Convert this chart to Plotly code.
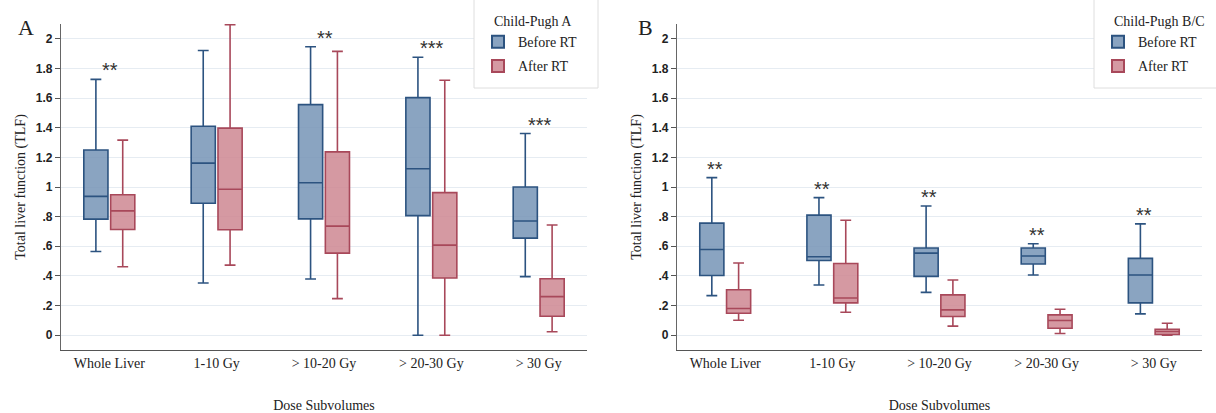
import plotly.graph_objects as go

W, H = 1216, 413

categories = ["Whole Liver", "1-10 Gy", "> 10-20 Gy", "> 20-30 Gy", "> 30 Gy"]

# Child-Pugh A
a_before_low = [0.565, 0.352, 0.379, 0.0, 0.395]
a_before_q1 = [0.783, 0.890, 0.785, 0.807, 0.655]
a_before_med = [0.937, 1.161, 1.029, 1.123, 0.771]
a_before_q3 = [1.250, 1.410, 1.556, 1.603, 1.000]
a_before_high = [1.726, 1.921, 1.946, 1.876, 1.361]

a_after_low = [0.462, 0.473, 0.247, 0.0, 0.023]
a_after_q1 = [0.713, 0.711, 0.554, 0.386, 0.128]
a_after_med = [0.839, 0.985, 0.736, 0.608, 0.260]
a_after_q3 = [0.948, 1.397, 1.237, 0.962, 0.381]
a_after_high = [1.316, 2.096, 1.915, 1.720, 0.744]

# Child-Pugh B/C
b_before_low = [0.267, 0.339, 0.289, 0.406, 0.144]
b_before_q1 = [0.403, 0.504, 0.397, 0.480, 0.218]
b_before_med = [0.578, 0.529, 0.554, 0.534, 0.406]
b_before_q3 = [0.756, 0.810, 0.588, 0.588, 0.518]
b_before_high = [1.063, 0.928, 0.872, 0.617, 0.751]

b_after_low = [0.101, 0.155, 0.061, 0.011, 0.000]
b_after_q1 = [0.148, 0.218, 0.126, 0.047, 0.005]
b_after_med = [0.180, 0.251, 0.171, 0.099, 0.025]
b_after_q3 = [0.307, 0.484, 0.272, 0.137, 0.040]
b_after_high = [0.487, 0.776, 0.372, 0.175, 0.081]

a_stars = ["**", "", "**", "***", "***"]
b_stars = ["**", "**", "**", "**", "**"]

y_tickvals = [0, 0.2, 0.4, 0.6, 0.8, 1, 1.2, 1.4, 1.6, 1.8, 2]
y_ticktext = ["0", ".2", ".4", ".6", ".8", "1", "1.2", "1.4", "1.6", "1.8", "2"]

BLUE_FILL = "rgba(118,148,182,0.85)"
BLUE_LINE = "#2c5380"
RED_FILL = "rgba(206,135,146,0.85)"
RED_LINE = "#a8485a"
SERIF = "Liberation Serif, Times New Roman, serif"
SANS = "Liberation Sans, Arial, sans-serif"

fig = go.Figure()


def add_box(name, low, q1, med, q3, high, fill, line, xa, ya, legend, group):
    fig.add_trace(go.Box(
        x=categories, lowerfence=low, q1=q1, median=med, q3=q3, upperfence=high,
        name=name, fillcolor=fill, line=dict(color=line, width=1.6),
        whiskerwidth=0.45, boxpoints=False, xaxis=xa, yaxis=ya,
        legend=legend, showlegend=True, hoverinfo="skip",
        offsetgroup=group, alignmentgroup=xa, legendgroup=xa + group,
    ))


add_box("Before RT", a_before_low, a_before_q1, a_before_med, a_before_q3, a_before_high,
        BLUE_FILL, BLUE_LINE, "x", "y", "legend", "before")
add_box("After RT", a_after_low, a_after_q1, a_after_med, a_after_q3, a_after_high,
        RED_FILL, RED_LINE, "x", "y", "legend", "after")
add_box("Before RT", b_before_low, b_before_q1, b_before_med, b_before_q3, b_before_high,
        BLUE_FILL, BLUE_LINE, "x2", "y2", "legend2", "before")
add_box("After RT", b_after_low, b_after_q1, b_after_med, b_after_q3, b_after_high,
        RED_FILL, RED_LINE, "x2", "y2", "legend2", "after")

px = lambda p: p / W
py = lambda p: 1 - p / H

xcommon = dict(
    type="category", range=[-0.45, 4.45], showline=True, linecolor="#555", linewidth=1.4,
    showgrid=False, ticks="", zeroline=False, automargin=False,
    tickfont=dict(family=SERIF, size=14, color="#222"),
    title=dict(text="Dose Subvolumes", font=dict(family=SERIF, size=14, color="#222"), standoff=30),
)
ycommon = dict(
    range=[-0.1, 2.1], tickvals=y_tickvals, ticktext=y_ticktext,
    showline=True, linecolor="#666", linewidth=1.4, ticks="outside", ticklen=5,
    tickcolor="#555", showgrid=True, gridcolor="#e6ecf2", gridwidth=1, zeroline=False,
    automargin=False, tickfont=dict(family=SANS, size=12, color="#222", weight="bold"),
    title=dict(text="Total liver function (TLF)", font=dict(family=SERIF, size=14, color="#222"), standoff=6),
)

legcommon = dict(
    bgcolor="rgba(0,0,0,0)", borderwidth=0,
    font=dict(family=SERIF, size=14, color="#222"), yanchor="top", xanchor="left",
    tracegroupgap=3, itemsizing="constant",
)

IND = "\u00a0" * 4

fig.update_layout(
    width=W, height=H, margin=dict(l=0, r=0, t=0, b=0, autoexpand=False),
    paper_bgcolor="white", plot_bgcolor="white",
    boxmode="group", boxgap=0.5, boxgroupgap=0.1,
    xaxis=dict(domain=[px(61), px(587)], anchor="y", **xcommon),
    yaxis=dict(domain=[py(350), py(24)], anchor="x", **ycommon),
    xaxis2=dict(domain=[px(677), px(1202)], anchor="y2", **xcommon),
    yaxis2=dict(domain=[py(350), py(24)], anchor="x2", **ycommon),
    legend=dict(x=px(478), y=py(8), title=dict(text=IND + "Child-Pugh A", side="top",
                font=dict(family=SERIF, size=14, color="#222")), **legcommon),
    legend2=dict(x=px(1098), y=py(8), title=dict(text=IND + "Child-Pugh B/C", side="top",
                 font=dict(family=SERIF, size=14, color="#222")), **legcommon),
    showlegend=True,
    shapes=[
        dict(type="rect", xref="paper", yref="paper", x0=px(474), x1=px(598), y0=py(88), y1=py(-3),
             fillcolor="white", line=dict(color="#dedede", width=1), layer="above"),
        dict(type="rect", xref="paper", yref="paper", x0=px(1094), x1=px(1222), y0=py(88), y1=py(-3),
             fillcolor="white", line=dict(color="#dedede", width=1), layer="above"),
    ],
)

annotations = []
for i, s in enumerate(a_stars):
    if s:
        annotations.append(dict(x=categories[i], y=a_before_high[i], xref="x", yref="y",
                                text=s, showarrow=False, xshift=1, yshift=9,
                                font=dict(family=SANS, size=20, color="#333")))
for i, s in enumerate(b_stars):
    if s:
        annotations.append(dict(x=categories[i], y=b_before_high[i], xref="x2", yref="y2",
                                text=s, showarrow=False, xshift=-10, yshift=9,
                                font=dict(family=SANS, size=20, color="#333")))
annotations.append(dict(x=px(26), y=py(27), xref="paper", yref="paper", text="A",
                        xanchor="center", yanchor="middle",
                        showarrow=False, font=dict(family=SERIF, size=22, color="#222")))
annotations.append(dict(x=px(645), y=py(27), xref="paper", yref="paper", text="B",
                        xanchor="center", yanchor="middle",
                        showarrow=False, font=dict(family=SERIF, size=22, color="#222")))
fig.update_layout(annotations=annotations)

fig.write_html("out.html", config={"displayModeBar": False},
               post_script="document.body.style.margin='0';")
